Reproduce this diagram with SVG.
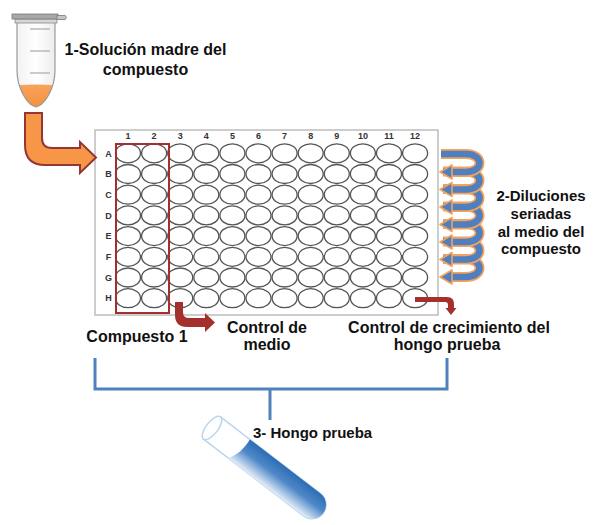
<svg xmlns="http://www.w3.org/2000/svg" width="595" height="525" viewBox="0 0 595 525">
  <defs>
    <style>
      .lbl { font-family: "Liberation Sans", Arial, sans-serif; font-weight: bold; fill: #111; }
      .big { font-size: 16px; text-anchor: middle; }
      .mid { font-size: 15px; text-anchor: middle; }
      .idx { font-family: "Liberation Sans", Arial, sans-serif; font-weight: bold; font-size: 9px; fill: #333; text-anchor: middle; }
      .well { fill: #fff; stroke: #555; stroke-width: 1.3; }
      .coil-back { fill: none; stroke: #f2a35e; stroke-width: 10; stroke-linecap: butt; }
      .coil-front { fill: none; stroke: #4f7fbf; stroke-width: 6.5; stroke-linecap: butt; }
      .coil-head { fill: #4f7fbf; stroke: #f2a35e; stroke-width: 1.6; stroke-linejoin: round; }
      .red-arrow { fill: #a3302c; }
      .bracket { fill: none; stroke: #4f81bd; stroke-width: 3; }
    </style>
    <linearGradient id="liquidOrange" x1="0" y1="0" x2="0" y2="1">
      <stop offset="0" stop-color="#f9a35a"/>
      <stop offset="1" stop-color="#f08a35"/>
    </linearGradient>
    <linearGradient id="tubeGlass" x1="0" y1="0" x2="1" y2="0">
      <stop offset="0" stop-color="#f2f2f2"/>
      <stop offset="0.5" stop-color="#ffffff"/>
      <stop offset="1" stop-color="#ececec"/>
    </linearGradient>
    <linearGradient id="fungusBlue" gradientUnits="userSpaceOnUse" x1="0" y1="-14" x2="0" y2="14">
      <stop offset="0" stop-color="#2d6db4"/>
      <stop offset="0.45" stop-color="#4f88c8"/>
      <stop offset="1" stop-color="#e4edf8"/>
    </linearGradient>
    <clipPath id="eppBody">
      <path d="M17,22 L55,22 L55,70 C55,88 45,105 36,107 C27,105 17,88 17,70 Z"/>
    </clipPath>
  </defs>

  <!-- stock solution tube -->
  <g id="stock-tube">
    <path d="M17,22 L55,22 L55,70 C55,88 45,105 36,107 C27,105 17,88 17,70 Z" fill="url(#tubeGlass)"/>
    <g clip-path="url(#eppBody)">
      <path d="M10,86 Q36,83 62,86 L62,115 L10,115 Z" fill="url(#liquidOrange)"/>
    </g>
    <path d="M17,22 L55,22 L55,70 C55,88 45,105 36,107 C27,105 17,88 17,70 Z" fill="none" stroke="#9a9a9a" stroke-width="1.2"/>
    <line x1="30" y1="29" x2="50" y2="29" stroke="#aaa" stroke-width="1.2"/>
    <line x1="30" y1="51" x2="50" y2="51" stroke="#aaa" stroke-width="1.2"/>
    <line x1="30" y1="73" x2="50" y2="73" stroke="#aaa" stroke-width="1.2"/>
    <rect x="15" y="19" width="42" height="4" fill="#d6d6d6" stroke="#8a8a8a" stroke-width="0.8"/>
    <rect x="12" y="14" width="46" height="5" fill="#a8a8a8" stroke="#777" stroke-width="0.8"/>
    <path d="M57,15.5 L65,15.5 A2.2,2.2 0 0 1 65,19.5 L57,19.5 Z" fill="#c4c4c4" stroke="#777" stroke-width="0.8"/>
  </g>

  <g id="stock-label">
    <text class="lbl big" x="145.5" y="55">1-Solución madre del</text>
    <text class="lbl big" x="145.5" y="75">compuesto</text>
  </g>

  <!-- 96-well plate -->
  <g id="plate">
    <rect x="95" y="130" width="343" height="185" fill="#fff" stroke="#bdbdbd" stroke-width="1.5"/>
    <g id="col-numbers">
      <text class="idx" x="128" y="139">1</text>
      <text class="idx" x="154.1" y="139">2</text>
      <text class="idx" x="180.2" y="139">3</text>
      <text class="idx" x="206.3" y="139">4</text>
      <text class="idx" x="232.4" y="139">5</text>
      <text class="idx" x="258.5" y="139">6</text>
      <text class="idx" x="284.6" y="139">7</text>
      <text class="idx" x="310.7" y="139">8</text>
      <text class="idx" x="336.8" y="139">9</text>
      <text class="idx" x="362.9" y="139">10</text>
      <text class="idx" x="389" y="139">11</text>
      <text class="idx" x="415.1" y="139">12</text>
    </g>
    <g id="row-letters">
      <text class="idx" x="108.5" y="156.5">A</text>
      <text class="idx" x="108.5" y="177.2">B</text>
      <text class="idx" x="108.5" y="197.9">C</text>
      <text class="idx" x="108.5" y="218.6">D</text>
      <text class="idx" x="108.5" y="239.3">E</text>
      <text class="idx" x="108.5" y="260">F</text>
      <text class="idx" x="108.5" y="280.7">G</text>
      <text class="idx" x="108.5" y="301.4">H</text>
    </g>
    <g id="well-template">
      <g id="row-A" transform="translate(0,153.3)">
        <ellipse class="well" cx="128" cy="0" rx="12.5" ry="9.5"/>
        <ellipse class="well" cx="154.1" cy="0" rx="12.5" ry="9.5"/>
        <ellipse class="well" cx="180.2" cy="0" rx="12.5" ry="9.5"/>
        <ellipse class="well" cx="206.3" cy="0" rx="12.5" ry="9.5"/>
        <ellipse class="well" cx="232.4" cy="0" rx="12.5" ry="9.5"/>
        <ellipse class="well" cx="258.5" cy="0" rx="12.5" ry="9.5"/>
        <ellipse class="well" cx="284.6" cy="0" rx="12.5" ry="9.5"/>
        <ellipse class="well" cx="310.7" cy="0" rx="12.5" ry="9.5"/>
        <ellipse class="well" cx="336.8" cy="0" rx="12.5" ry="9.5"/>
        <ellipse class="well" cx="362.9" cy="0" rx="12.5" ry="9.5"/>
        <ellipse class="well" cx="389" cy="0" rx="12.5" ry="9.5"/>
        <ellipse class="well" cx="415.1" cy="0" rx="12.5" ry="9.5"/>
      </g>
    </g>
    <use href="#row-A" transform="translate(0,20.7)"/>
    <use href="#row-A" transform="translate(0,41.4)"/>
    <use href="#row-A" transform="translate(0,62.1)"/>
    <use href="#row-A" transform="translate(0,82.8)"/>
    <use href="#row-A" transform="translate(0,103.5)"/>
    <use href="#row-A" transform="translate(0,124.2)"/>
    <use href="#row-A" transform="translate(0,144.9)"/>
    <!-- columns 1-2: compound -->
    <rect x="116" y="144" width="53" height="169" fill="none" stroke="#a3302c" stroke-width="2"/>
  </g>

  <g id="serial-dilution-label">
    <text class="lbl mid" x="541" y="201">2-Diluciones</text>
    <text class="lbl mid" x="541" y="219">seriadas</text>
    <text class="lbl mid" x="541" y="236.5">al medio del</text>
    <text class="lbl mid" x="541" y="254">compuesto</text>
  </g>

  <g id="compound-label">
    <text class="lbl big" x="137" y="342">Compuesto 1</text>
  </g>
  <g id="medium-control-label">
    <text class="lbl big" x="267" y="333">Control de</text>
    <text class="lbl big" x="267" y="350">medio</text>
  </g>
  <g id="growth-control-label">
    <text class="lbl big" x="449" y="333">Control de crecimiento del</text>
    <text class="lbl big" x="447" y="350">hongo prueba</text>
  </g>

  <!-- inoculum tube -->
  <g id="fungus-tube" transform="translate(212,428) rotate(37.5)">
    <path d="M0,-14 L126,-14 A14,14 0 0 1 126,14 L0,14 Z" fill="#fff" stroke="#b9d4ee" stroke-width="1.5"/>
    <path d="M37,-14 L126,-14 A14,14 0 0 1 126,14 L31,14 C37,6 38,-5 37,-14 Z" fill="url(#fungusBlue)"/>
    <ellipse cx="0" cy="0" rx="6" ry="14" fill="#fff" stroke="#b9d4ee" stroke-width="1.5"/>
  </g>

  <g id="inoculum-label">
    <text class="lbl" font-size="15" x="253" y="438">3- Hongo prueba</text>
  </g>

  <g id="connectors">
    <!-- stock solution into column 1 -->
    <path d="M25,113 L42,113 L42,138 Q42,148 52,148 L80,148 L80,142 L96,157.5 L80,173 L80,165 L45,165 Q25,165 25,145 Z" fill="#f79646" stroke="#943634" stroke-width="2" stroke-linejoin="miter"/>

    <!-- serial dilution coil, drawn bottom-up -->
    <g id="dilution-coil">
      <path class="coil-back" d="M443,259 L466,259 C484,259 484,277 466,277 L452,277"/>
      <path class="coil-front" d="M443,259 L466,259 C484,259 484,277 466,277 L452,277"/>
      <polygon class="coil-head" points="440,277 452,270 452,284"/>
      <path class="coil-back" d="M443,241.5 L466,241.5 C484,241.5 484,259.5 466,259.5 L452,259.5"/>
      <path class="coil-front" d="M443,241.5 L466,241.5 C484,241.5 484,259.5 466,259.5 L452,259.5"/>
      <polygon class="coil-head" points="440,259.5 452,252.5 452,266.5"/>
      <path class="coil-back" d="M443,224 L466,224 C484,224 484,242 466,242 L452,242"/>
      <path class="coil-front" d="M443,224 L466,224 C484,224 484,242 466,242 L452,242"/>
      <polygon class="coil-head" points="440,242 452,235 452,249"/>
      <path class="coil-back" d="M443,206.5 L466,206.5 C484,206.5 484,224.5 466,224.5 L452,224.5"/>
      <path class="coil-front" d="M443,206.5 L466,206.5 C484,206.5 484,224.5 466,224.5 L452,224.5"/>
      <polygon class="coil-head" points="440,224.5 452,217.5 452,231.5"/>
      <path class="coil-back" d="M443,189 L466,189 C484,189 484,207 466,207 L452,207"/>
      <path class="coil-front" d="M443,189 L466,189 C484,189 484,207 466,207 L452,207"/>
      <polygon class="coil-head" points="440,207 452,200 452,214"/>
      <path class="coil-back" d="M443,171.5 L466,171.5 C484,171.5 484,189.5 466,189.5 L452,189.5"/>
      <path class="coil-front" d="M443,171.5 L466,171.5 C484,171.5 484,189.5 466,189.5 L452,189.5"/>
      <polygon class="coil-head" points="440,189.5 452,182.5 452,196.5"/>
      <path class="coil-back" d="M441,154 L466,154 C484,154 484,172 466,172 L452,172"/>
      <path class="coil-front" d="M441,154 L466,154 C484,154 484,172 466,172 L452,172"/>
      <polygon class="coil-head" points="440,172 452,165 452,179"/>
    </g>

    <!-- column 3 to medium control -->
    <path class="red-arrow" d="M175,302 L183,302 L183,312 Q183,318 189,318 L205,318 L205,313 L215,322.5 L205,332 L205,327 L187,327 Q175,327 175,315 Z"/>
    <!-- well H12 to growth control -->
    <path class="red-arrow" d="M415,297 L447,297 Q454,297 454,304 L454,308 L456.5,308 L451,315 L445.5,308 L448,308 L448,305 Q448,302 445,302 L415,302 Z"/>

    <!-- inoculum bracket -->
    <path class="bracket" d="M95,358 L95,389 L447,389 L447,358"/>
    <path class="bracket" d="M270,389 L270,420"/>
  </g>
</svg>
